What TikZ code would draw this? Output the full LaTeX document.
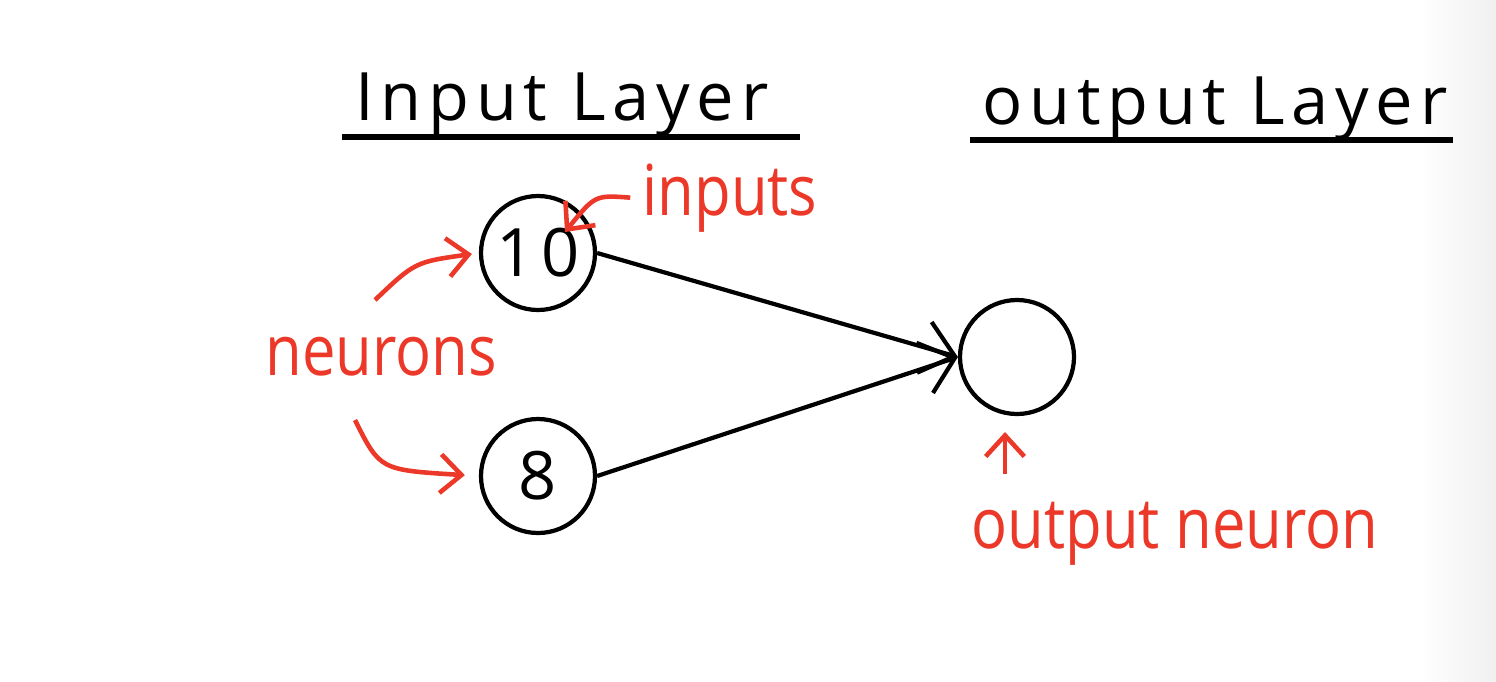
\documentclass[tikz,border=0pt]{standalone}
\usepackage{fontspec}
\setmainfont{Open Sans}
\newfontfamily\titlefont[LetterSpace=10]{Open Sans}
\newfontfamily\notefont[FakeStretch=0.85]{Open Sans}
\usetikzlibrary{arrows.meta}
\begin{document}
\begin{tikzpicture}[x=1cm, y=-1cm]
            \definecolor{note_color}{RGB}{236,56,40}
            \tikzstyle{neuron} = [draw, shape=circle, line width=1.2pt, minimum size=1.14cm, inner sep=0pt, font=\titlefont\fontsize{19}{21}\selectfont]
            \tikzstyle{title} = [anchor=base, font=\titlefont\fontsize{19}{21}\selectfont]
            \tikzstyle{note} = [anchor=base, text=note_color, font=\notefont\fontsize{20}{22}\selectfont]
            \tikzstyle{pointer} = [note_color, line width=1.3pt, -{Straight Barb[length=6pt, width=11pt]}]
            \useasboundingbox (0,0) rectangle (14.96,6.81);
            \shade[left color=white, right color=black!6, draw=none] (14.2,0) rectangle (14.96,6.81);
            % layer titles
            \node[title] (inlayer) at (5.62,1.20) {Input Layer};
            \node[title] (outlayer) at (12.15,1.24) {output Layer};
            \draw[line width=1.5pt] (3.42,1.37) -- (8.00,1.37);
            \draw[line width=1.5pt] (9.70,1.40) -- (14.53,1.40);
            % neurons
            \node[neuron] (n0) at (5.38,2.53) {10};
            \node[neuron] (n1) at (5.38,4.76) {8};
            \node[neuron] (o0) at (10.17,3.57) {};
            \draw[line width=1.2pt, -{Straight Barb[length=9pt, width=15pt]}] (n0.east) -- (o0.west);
            \draw[line width=1.2pt, -{Straight Barb[length=9pt, width=15pt]}] (n1.east) -- (o0.west);
            % red notes
            \node[note] (inputs) at (7.30,2.15) {inputs};
            \node[note] (neurons) at (3.81,3.75) {neurons};
            \node[note] (outn) at (11.75,5.48) {output neuron};
            \coordinate (n0tip) at (5.65,2.32);
            \coordinate (nrtop) at (3.75,3.00);
            \coordinate (nrbot) at (3.55,4.20);
            \coordinate (o0foot) at (10.05,4.74);
            \coordinate (o0mark) at (10.05,4.32);
            \draw[pointer] (inputs.west) .. controls (5.95,1.95) .. (n0tip);
            \draw[pointer, shorten >=2pt] (nrtop) .. controls (4.15,2.62) .. (n0.west);
            \draw[pointer, shorten >=4pt] (nrbot) .. controls (3.80,4.70) .. (n1.west);
            \draw[pointer] (o0foot) -- (o0mark);
\end{tikzpicture}
\end{document}
